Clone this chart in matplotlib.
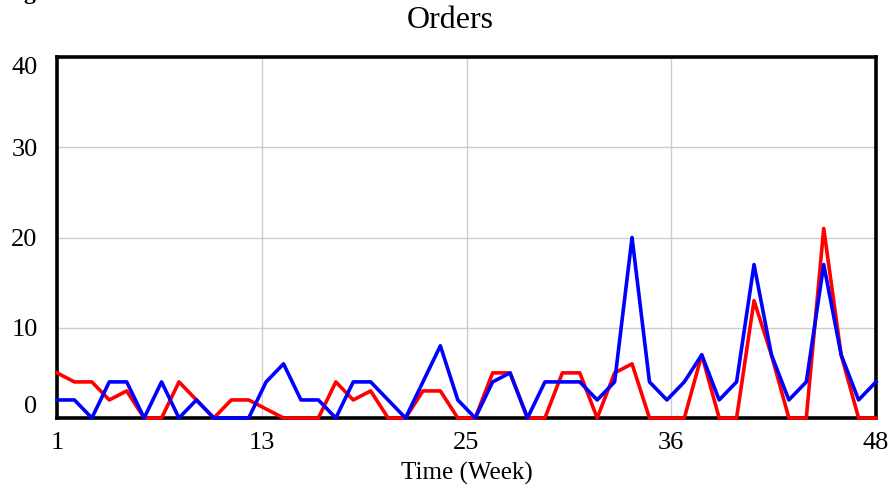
import numpy as np
import matplotlib
matplotlib.use("Agg")
import matplotlib.pyplot as plt

weeks = np.arange(1, 49)

# red series
orders_red = [5, 4, 4, 2, 3, 0, 0, 4, 2, 0, 2, 2, 1, 0, 0, 0, 4, 2, 3, 0,
              0, 3, 3, 0, 0, 5, 5, 0, 0, 5, 5, 0, 5, 6, 0, 0, 0, 7, 0, 0,
              13, 7, 0, 0, 21, 7, 0, 0]
# blue series
orders_blue = [2, 2, 0, 4, 4, 0, 4, 0, 2, 0, 0, 0, 4, 6, 2, 2, 0, 4, 4, 2,
               0, 4, 8, 2, 0, 4, 5, 0, 4, 4, 4, 2, 4, 20, 4, 2, 4, 7, 2, 4,
               17, 7, 2, 4, 17, 7, 2, 4]

x_ticks = [1, 12.75, 24.5, 36.25, 48]
x_labels = ["1", "13", "25", "36", "48"]
y_ticks = [0, 10, 20, 30, 40]

plt.rcParams["font.family"] = ["Liberation Serif", "DejaVu Serif"]

fig = plt.figure(figsize=(8.93, 4.90), dpi=100)
ax = fig.add_axes([57 / 893, 1 - 418 / 490, (876 - 57) / 893, (418 - 57) / 490])

ax.plot(weeks, orders_red, color="#ff0000", lw=2.6, clip_on=False, zorder=4)
ax.plot(weeks, orders_blue, color="#0000ff", lw=2.6, clip_on=False, zorder=5)

ax.set_xlim(1, 48)
ax.set_ylim(0, 40)
ax.set_xticks(x_ticks)
ax.set_xticklabels(x_labels)
ax.set_yticks(y_ticks)
ax.set_yticklabels([str(v) for v in y_ticks])
ax.grid(True, color="#cccccc", lw=1)
ax.set_axisbelow(True)
ax.tick_params(length=0, labelsize=19)
ax.tick_params(axis="y", pad=14)
ax.tick_params(axis="x", pad=10)

# vensim style: end labels pulled inside the frame
ylabs = ax.get_yticklabels()
ylabs[0].set_va("bottom")
ylabs[-1].set_va("top")

for sp in ax.spines.values():
    sp.set_linewidth(2.6)
    sp.set_color("black")
    sp.set_zorder(3)

fig.text(450 / 893, 1 - 20 / 490, "Orders", fontsize=23, ha="center", va="center")
ax.set_xlabel("Time (Week)", fontsize=18, labelpad=6)

# cut-off text fragment at the top edge
fig.text(0.026, 1.003, "g", fontsize=17, fontweight="bold", va="baseline")

fig.savefig("out.png", dpi=100)
